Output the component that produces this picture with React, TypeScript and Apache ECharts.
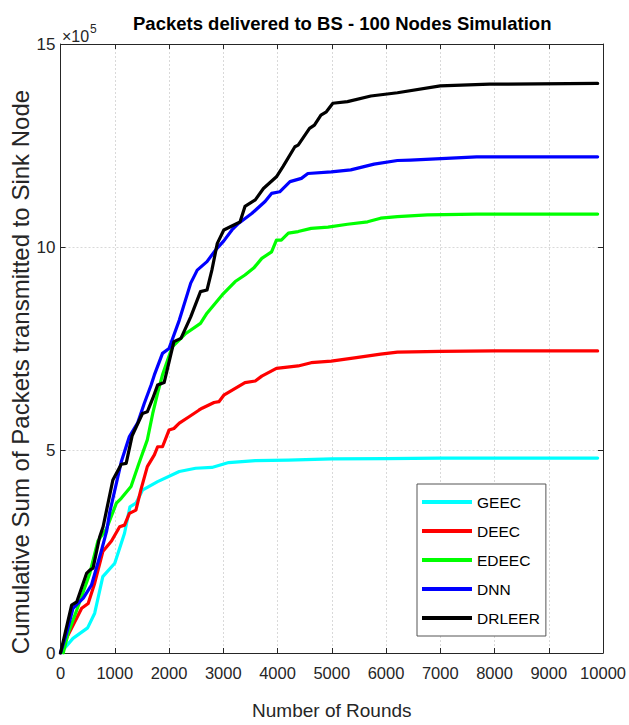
import React, { useEffect, useRef } from "react";
import * as echarts from "echarts";

// Values are in units of 10^5 packets (the axis shows "×10^5").
const seriesNames = ["GEEC", "DEEC", "EDEEC", "DNN", "DRLEER"];
const seriesColors = ["#00FFFF", "#FF0000", "#00FF00", "#0000FF", "#000000"];

const geecRounds = [0, 230, 500, 630, 780, 1000, 1180, 1280, 1390, 1510, 1790, 2190, 2490, 2790, 3100, 3590, 4200, 5000, 6000, 7000, 8000, 9000, 9900];
const geecPackets = [0, 0.36, 0.62, 0.98, 1.88, 2.21, 2.95, 3.6, 3.69, 4.01, 4.22, 4.47, 4.55, 4.57, 4.69, 4.74, 4.75, 4.78, 4.79, 4.8, 4.8, 4.8, 4.8];

const deecRounds = [0, 110, 390, 510, 630, 780, 940, 1090, 1180, 1270, 1390, 1480, 1600, 1730, 1790, 1880, 2000, 2090, 2190, 2370, 2550, 2610, 2830, 2920, 3010, 3400, 3590, 3710, 3980, 4380, 4620, 4990, 5420, 5900, 6210, 7000, 8000, 9000, 9900];
const deecPackets = [0, 0.36, 1.1, 1.22, 1.72, 2.5, 2.76, 3.11, 3.15, 3.44, 3.52, 4.01, 4.59, 4.88, 5.08, 5.08, 5.49, 5.53, 5.66, 5.82, 5.98, 6.03, 6.17, 6.19, 6.35, 6.66, 6.7, 6.82, 7.01, 7.07, 7.15, 7.19, 7.27, 7.36, 7.41, 7.43, 7.44, 7.44, 7.44];

const edeecRounds = [50, 140, 300, 540, 690, 845, 1030, 1120, 1300, 1440, 1600, 1700, 1790, 1880, 2060, 2310, 2580, 2700, 2980, 3220, 3400, 3560, 3710, 3890, 3980, 4070, 4200, 4380, 4620, 4930, 5290, 5660, 5900, 6210, 6760, 7670, 8500, 9900];
const edeecPackets = [0, 0.48, 1.06, 1.96, 2.76, 3.05, 3.69, 3.81, 4.1, 4.65, 5.25, 5.9, 6.4, 6.85, 7.54, 7.87, 8.12, 8.37, 8.82, 9.15, 9.31, 9.48, 9.72, 9.88, 10.17, 10.17, 10.34, 10.38, 10.46, 10.49, 10.56, 10.62, 10.71, 10.75, 10.79, 10.81, 10.81, 10.81];

const dnnRounds = [0, 110, 230, 420, 570, 750, 850, 905, 1120, 1270, 1420, 1545, 1670, 1730, 1880, 2000, 2190, 2400, 2520, 2700, 2860, 3010, 3160, 3280, 3530, 3770, 3890, 4040, 4230, 4440, 4560, 4990, 5350, 5780, 6210, 6450, 7670, 9900];
const dnnPackets = [0, 0.48, 1.1, 1.35, 1.67, 2.5, 3.0, 3.45, 4.71, 5.33, 5.66, 6.15, 6.6, 6.85, 7.38, 7.5, 8.2, 9.11, 9.43, 9.64, 9.93, 10.15, 10.42, 10.58, 10.83, 11.12, 11.32, 11.36, 11.61, 11.69, 11.81, 11.85, 11.9, 12.04, 12.13, 12.14, 12.22, 12.22];

const drleerRounds = [0, 205, 300, 480, 540, 600, 720, 785, 965, 1120, 1210, 1320, 1510, 1600, 1700, 1790, 1910, 2090, 2220, 2400, 2580, 2700, 2790, 2890, 3010, 3130, 3310, 3400, 3590, 3740, 3980, 4100, 4320, 4380, 4590, 4680, 4800, 4900, 5020, 5290, 5720, 6210, 7000, 7910, 9900];
const drleerPackets = [0, 1.18, 1.26, 1.96, 2.04, 2.09, 2.85, 3.11, 4.26, 4.65, 4.67, 5.35, 5.9, 5.94, 6.27, 6.6, 6.66, 7.67, 7.75, 8.28, 8.9, 8.94, 9.43, 10.09, 10.42, 10.5, 10.62, 11.0, 11.16, 11.44, 11.73, 11.98, 12.47, 12.51, 12.92, 13.0, 13.25, 13.33, 13.54, 13.58, 13.72, 13.8, 13.97, 14.01, 14.03];

const roundsList = [geecRounds, deecRounds, edeecRounds, dnnRounds, drleerRounds];
const packetsList = [geecPackets, deecPackets, edeecPackets, dnnPackets, drleerPackets];

const xMin = 0;
const xMax = 10000;
const xInterval = 1000;
const yMin = 0;
const yMax = 15;
const yInterval = 5;

const FONT = "'Liberation Sans', Arial, Helvetica, sans-serif";
const AXIS_COLOR = "#262626";

export default function App() {
  const ref = useRef<HTMLDivElement>(null);

  useEffect(() => {
    if (!ref.current) return;
    const chart = echarts.init(ref.current, undefined, { renderer: "svg" });

    const series = seriesNames.map((name, i) => ({
      name,
      type: "line",
      xAxisIndex: 0,
      yAxisIndex: 0,
      data: roundsList[i].map((r, j) => [r, packetsList[i][j]]),
      symbol: "none",
      showSymbol: false,
      lineStyle: { color: seriesColors[i], width: 3.2, join: "round", cap: "round" },
      itemStyle: { color: seriesColors[i] },
      z: 3 + i,
    }));

    const gridLine = { show: true, lineStyle: { color: "#d9d9d9", width: 1, type: [2, 2] } };
    const plainLabel = (v: number) => String(v);

    chart.setOption({
      animation: false,
      backgroundColor: "#ffffff",
      title: {
        text: "Packets delivered to BS - 100 Nodes Simulation",
        left: 128,
        top: 9,
        textStyle: { fontSize: 18.5, fontWeight: "bold", fontFamily: FONT, color: "#000" },
      },
      grid: { left: 60.5, right: 21.5, top: 44, bottom: 72, show: false },
      legend: {
        data: seriesNames,
        orient: "vertical",
        left: 417,
        top: 484,
        icon: "rect",
        itemWidth: 50,
        itemHeight: 4,
        itemGap: 13,
        padding: [10, 6, 10, 5],
        borderColor: "#555",
        borderWidth: 1,
        backgroundColor: "#fff",
        textStyle: { fontSize: 15.5, fontFamily: FONT, color: "#000" },
      },
      xAxis: [
        {
          type: "value",
          min: xMin,
          max: xMax,
          interval: xInterval,
          name: "Number of Rounds",
          nameLocation: "middle",
          nameGap: 48,
          nameTextStyle: { fontSize: 19, fontFamily: FONT, color: AXIS_COLOR },
          axisLine: { show: true, onZero: false, lineStyle: { color: AXIS_COLOR, width: 1 } },
          axisTick: { show: true, inside: true, length: 5, lineStyle: { color: AXIS_COLOR } },
          axisLabel: {
            fontSize: 16.5,
            fontFamily: FONT,
            color: AXIS_COLOR,
            margin: 11,
            formatter: plainLabel,
            showMinLabel: true,
            showMaxLabel: true,
            hideOverlap: false,
          },
          splitLine: gridLine,
        },
        {
          type: "value",
          position: "top",
          min: xMin,
          max: xMax,
          interval: xInterval,
          axisLine: { show: true, onZero: false, lineStyle: { color: AXIS_COLOR, width: 1 } },
          axisTick: { show: true, inside: true, length: 5, lineStyle: { color: AXIS_COLOR } },
          axisLabel: { show: false },
          splitLine: { show: false },
        },
      ],
      yAxis: [
        {
          type: "value",
          min: yMin,
          max: yMax,
          interval: yInterval,
          axisLine: { show: true, onZero: false, lineStyle: { color: AXIS_COLOR, width: 1 } },
          axisTick: { show: true, inside: true, length: 5, lineStyle: { color: AXIS_COLOR } },
          axisLabel: {
            fontSize: 17,
            fontFamily: FONT,
            color: AXIS_COLOR,
            margin: 5,
            formatter: plainLabel,
            showMinLabel: true,
            showMaxLabel: true,
          },
          splitLine: gridLine,
        },
        {
          type: "value",
          position: "right",
          min: yMin,
          max: yMax,
          interval: yInterval,
          axisLine: { show: true, onZero: false, lineStyle: { color: AXIS_COLOR, width: 1 } },
          axisTick: { show: true, inside: true, length: 5, lineStyle: { color: AXIS_COLOR } },
          axisLabel: { show: false },
          splitLine: { show: false },
        },
      ],
      graphic: [
        {
          type: "text",
          left: 62,
          top: 28,
          style: { text: "×10", fontSize: 16, fontFamily: FONT, fill: AXIS_COLOR },
        },
        {
          type: "text",
          left: 90,
          top: 23,
          style: { text: "5", fontSize: 12, fontFamily: FONT, fill: AXIS_COLOR },
        },
        {
          type: "text",
          x: 20,
          y: 372,
          rotation: Math.PI / 2,
          style: {
            text: "Cumulative Sum of Packets transmitted to Sink Node",
            fontSize: 24,
            fontFamily: FONT,
            fill: AXIS_COLOR,
            align: "center",
            verticalAlign: "middle",
          },
        },
      ],
      series,
    });

    return () => chart.dispose();
  }, []);

  return (
    <div
      ref={ref}
      style={{ position: "fixed", left: 0, top: 0, width: 629, height: 725, background: "#fff" }}
    />
  );
}
